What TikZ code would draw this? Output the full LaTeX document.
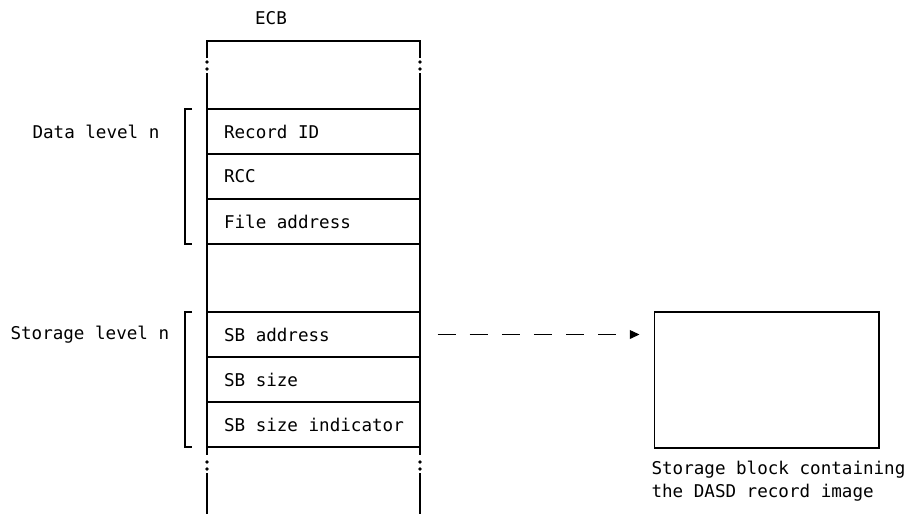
\documentclass[tikz,border=0pt]{standalone}
\usepackage{fontspec}
\setmonofont{DejaVu Sans Mono}
\usetikzlibrary{arrows.meta}

\newcommand{\celda}[1]{\makebox[3.58cm][l]{#1}}

\begin{document}
\begin{tikzpicture}[x=0.02cm, y=-0.02cm, line width=0.6pt,
    font=\ttfamily\fontsize{10}{12.75}\selectfont,
    campo/.style={draw, minimum width=4.26cm, minimum height=0.9cm,
      inner xsep=0.34cm, inner ysep=0pt},
    enlace/.style={dash pattern=on 10.3pt off 8pt, -{Triangle[length=5.5pt, width=5pt]}}]

		\useasboundingbox (0,0) rectangle (908,514);

		% Bloque ECB
		\node (ecb) at (271,18) {ECB};
		\draw (207,58) -- (207,41) -- (420,41) -- (420,58);
		\foreach \x in {207,420} {
			\draw (\x,73) -- (\x,109);   % parte de arriba
			\draw (\x,244) -- (\x,312);  % hueco entre niveles
			\draw (\x,448) -- (\x,455);
			\draw (\x,473) -- (\x,514);  % parte de abajo
			\fill (\x,62) circle (1.1pt);
			\fill (\x,69) circle (1.1pt);
			\fill (\x,462) circle (1.1pt);
			\fill (\x,469) circle (1.1pt);
		}

		% Nivel de datos
		\node[campo] (recid) at (313.5,131.5) {\celda{Record ID}};
		\node[campo] (rcc) at (313.5,176.5) {\celda{RCC}};
		\node[campo] (fileaddr) at (313.5,221.5) {\celda{File address}};
		\draw (192,109) -- (185,109) -- (185,244) -- (192,244);
		\node[anchor=west, inner sep=0pt] (datalevel) at (32,131.5) {Data level n};

		% Nivel de almacenamiento
		\node[campo] (sbaddr) at (313.5,334.5) {\celda{SB address}};
		\node[campo] (sbsize) at (313.5,379.5) {\celda{SB size}};
		\node[campo] (sbind) at (313.5,424.5) {\celda{SB size indicator}};
		\draw (192,312) -- (185,312) -- (185,447) -- (192,447);
		\node[anchor=west, inner sep=0pt] (storlevel) at (10,334.5) {Storage level n};

		% Bloque de almacenamiento
		\node[draw, minimum width=4.5cm, minimum height=2.72cm] (block) at (766.5,380) {};
		\node[anchor=north west, inner sep=0pt, align=left] (caption) at (651,461)
			{Storage block containing\\the DASD record image};

		% Flecha
		\draw[enlace, shorten <=0.34cm, shorten >=0.28cm] (sbaddr.east) -- (sbaddr.east -| block.west);

\end{tikzpicture}
\end{document}
